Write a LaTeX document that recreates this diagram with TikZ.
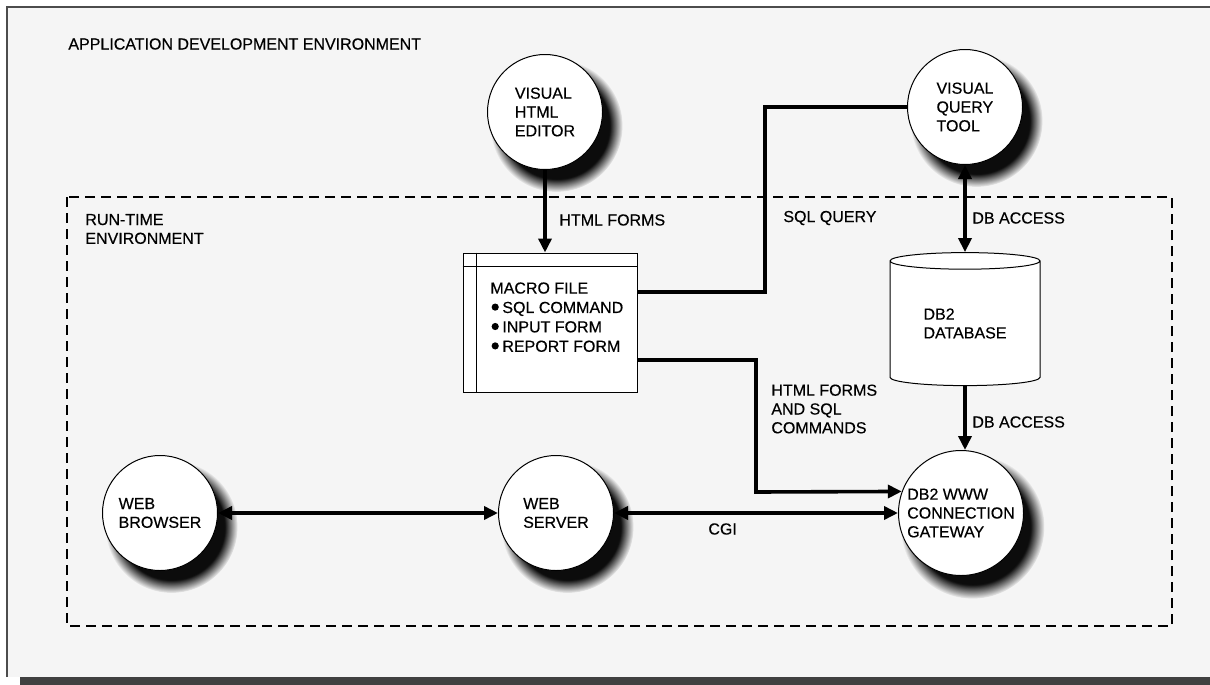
\documentclass[tikz,border=0pt]{standalone}
\usepackage{fontspec}
\setmainfont{Liberation Sans}[FakeBold=0.4]
\usetikzlibrary{arrows.meta,shapes.geometric,shadows,fadings,calc}
\pgfdeclarelayer{bg}
\pgfsetlayers{bg,main}
\begin{document}
\begin{tikzpicture}[x=0.5pt,y=-0.5pt,
  every node/.style={font=\fontsize{8}{9.4}\selectfont, inner sep=0pt},
  lbl/.style={anchor=west, align=left},
  ball/.style={circle, draw, line width=0.5pt, fill=white, minimum size=57.5pt, align=left,
    circular drop shadow={shadow xshift=5pt, shadow yshift=-6pt, shadow scale=1.15,
      fill=black, opacity=0.95, path fading=circle with fuzzy edge 20 percent}},
  conn/.style={line width=1.8pt},
  tip/.style={-{Triangle[length=7pt,width=6.5pt]}},
  tips/.style={{Triangle[length=7pt,width=6.5pt]}-{Triangle[length=7pt,width=6.5pt]}},
  region/.style={line width=0.7pt, dash pattern=on 5pt off 3pt},
  dot/.style={fill=black},
]
\useasboundingbox (0,0) rectangle (1210,685);
% outer frame
\fill[black!4] (7,7) rectangle (1210,677);
\draw[line width=0.6pt, black!70] (7,677) -- (7,7) -- (1210,7);
\fill[black!75] (20,677) rectangle (1210,685);

\node[lbl] (title) at (68,44) {APPLICATION DEVELOPMENT ENVIRONMENT};

% run-time region
\draw[region] (67,197) rectangle (1172,626);
\node[lbl] (rtlabel) at (85,229) {RUN-TIME\\ENVIRONMENT};

% circles
\node[ball] (editor) at (545,112) {VISUAL\\HTML\\EDITOR};
\node[ball] (vqt) at (965,107) {VISUAL\\QUERY\\TOOL};
\node[ball] (browser) at (160,513) {WEB\\BROWSER};
\node[ball] (server) at (556,513) {WEB\\SERVER};
\node[ball, minimum size=62.5pt] (gateway) at (961,513) {DB2 WWW\\CONNECTION\\GATEWAY};

% macro file
\node[draw, fill=white, line width=0.5pt, minimum width=87pt, minimum height=69.5pt] (macro) at (550,322.5) {};
\draw[line width=0.4pt] ([yshift=-7pt]macro.north west) -- ([yshift=-7pt]macro.north east);
\draw[line width=0.4pt] ([xshift=7pt]macro.north west) -- ([xshift=7pt]macro.south west);
\node[anchor=north west, align=left, font=\fontsize{8}{9.7}\selectfont] (macrotext) at (490,282)
  {MACRO FILE\\\hspace*{6pt}SQL COMMAND\\\hspace*{6pt}INPUT FORM\\\hspace*{6pt}REPORT FORM};
\fill[dot] ([shift={(2.6pt,-12.55pt)}]macrotext.north west) circle (1.8pt);
\fill[dot] ([shift={(2.6pt,-22.25pt)}]macrotext.north west) circle (1.8pt);
\fill[dot] ([shift={(2.6pt,-31.95pt)}]macrotext.north west) circle (1.8pt);

% database cylinder
\node[cylinder, shape border rotate=90, aspect=0.2, draw, fill=white, line width=0.5pt,
  minimum height=66.5pt, minimum width=75pt, align=left] (db) at (965,323.5) {DB2\\DATABASE};
\coordinate (dbnw) at (db.west |- db.north);
\coordinate (dbse) at (db.east |- db.south);

% shadows for box and cylinder
\begin{pgfonlayer}{bg}
\foreach \k in {0,...,6}{
  \pgfmathsetmacro{\g}{4.5-1.4*\k}
  \pgfmathsetmacro{\ax}{6-\g}
  \pgfmathsetmacro{\ay}{-7+\g}
  \pgfmathsetmacro{\bx}{6+\g}
  \pgfmathsetmacro{\by}{-7-\g}
  \fill[black,opacity=0.19,rounded corners=3pt] ([xshift=\ax pt,yshift=\ay pt]macro.north west) rectangle ([xshift=\bx pt,yshift=\by pt]macro.south east);
  \fill[black,opacity=0.19,rounded corners=8pt] ([xshift=\ax pt,yshift=\ay pt]dbnw) rectangle ([xshift=\bx pt,yshift=\by pt]dbse);
}
\end{pgfonlayer}

% labels
\node[lbl] (lhtml) at (559,220) {HTML FORMS};
\node[lbl] (lsql) at (783,218) {SQL QUERY};
\node[lbl] (ldb1) at (972,218) {DB ACCESS};
\node[lbl] (lhs) at (771,409) {HTML FORMS\\AND SQL\\COMMANDS};
\node[lbl] (ldb2) at (972,422) {DB ACCESS};
\node[lbl] (lcgi) at (708,529) {CGI};

% connectors
\coordinate (m1) at ([yshift=15.25pt]macro.east);
\coordinate (m2) at ([yshift=-18.75pt]macro.east);
\coordinate (s2) at (765,107);
\coordinate (h2) at (756,492);
\draw[conn, tip] (editor.south) -- (editor.south |- macro.north);
\draw[conn] (m1) -| (s2) -- (vqt.west);
\draw[conn, tips] (vqt.south) -- (vqt.south |- db.north);
\draw[conn, tip] (db.south) -- (db.south |- gateway.north);
\draw[conn, tip] (m2) -| (h2) -- (gateway.160);
\draw[conn, tips] (browser) -- (server);
\draw[conn, tips] (server) -- (gateway);
\end{tikzpicture}
\end{document}
